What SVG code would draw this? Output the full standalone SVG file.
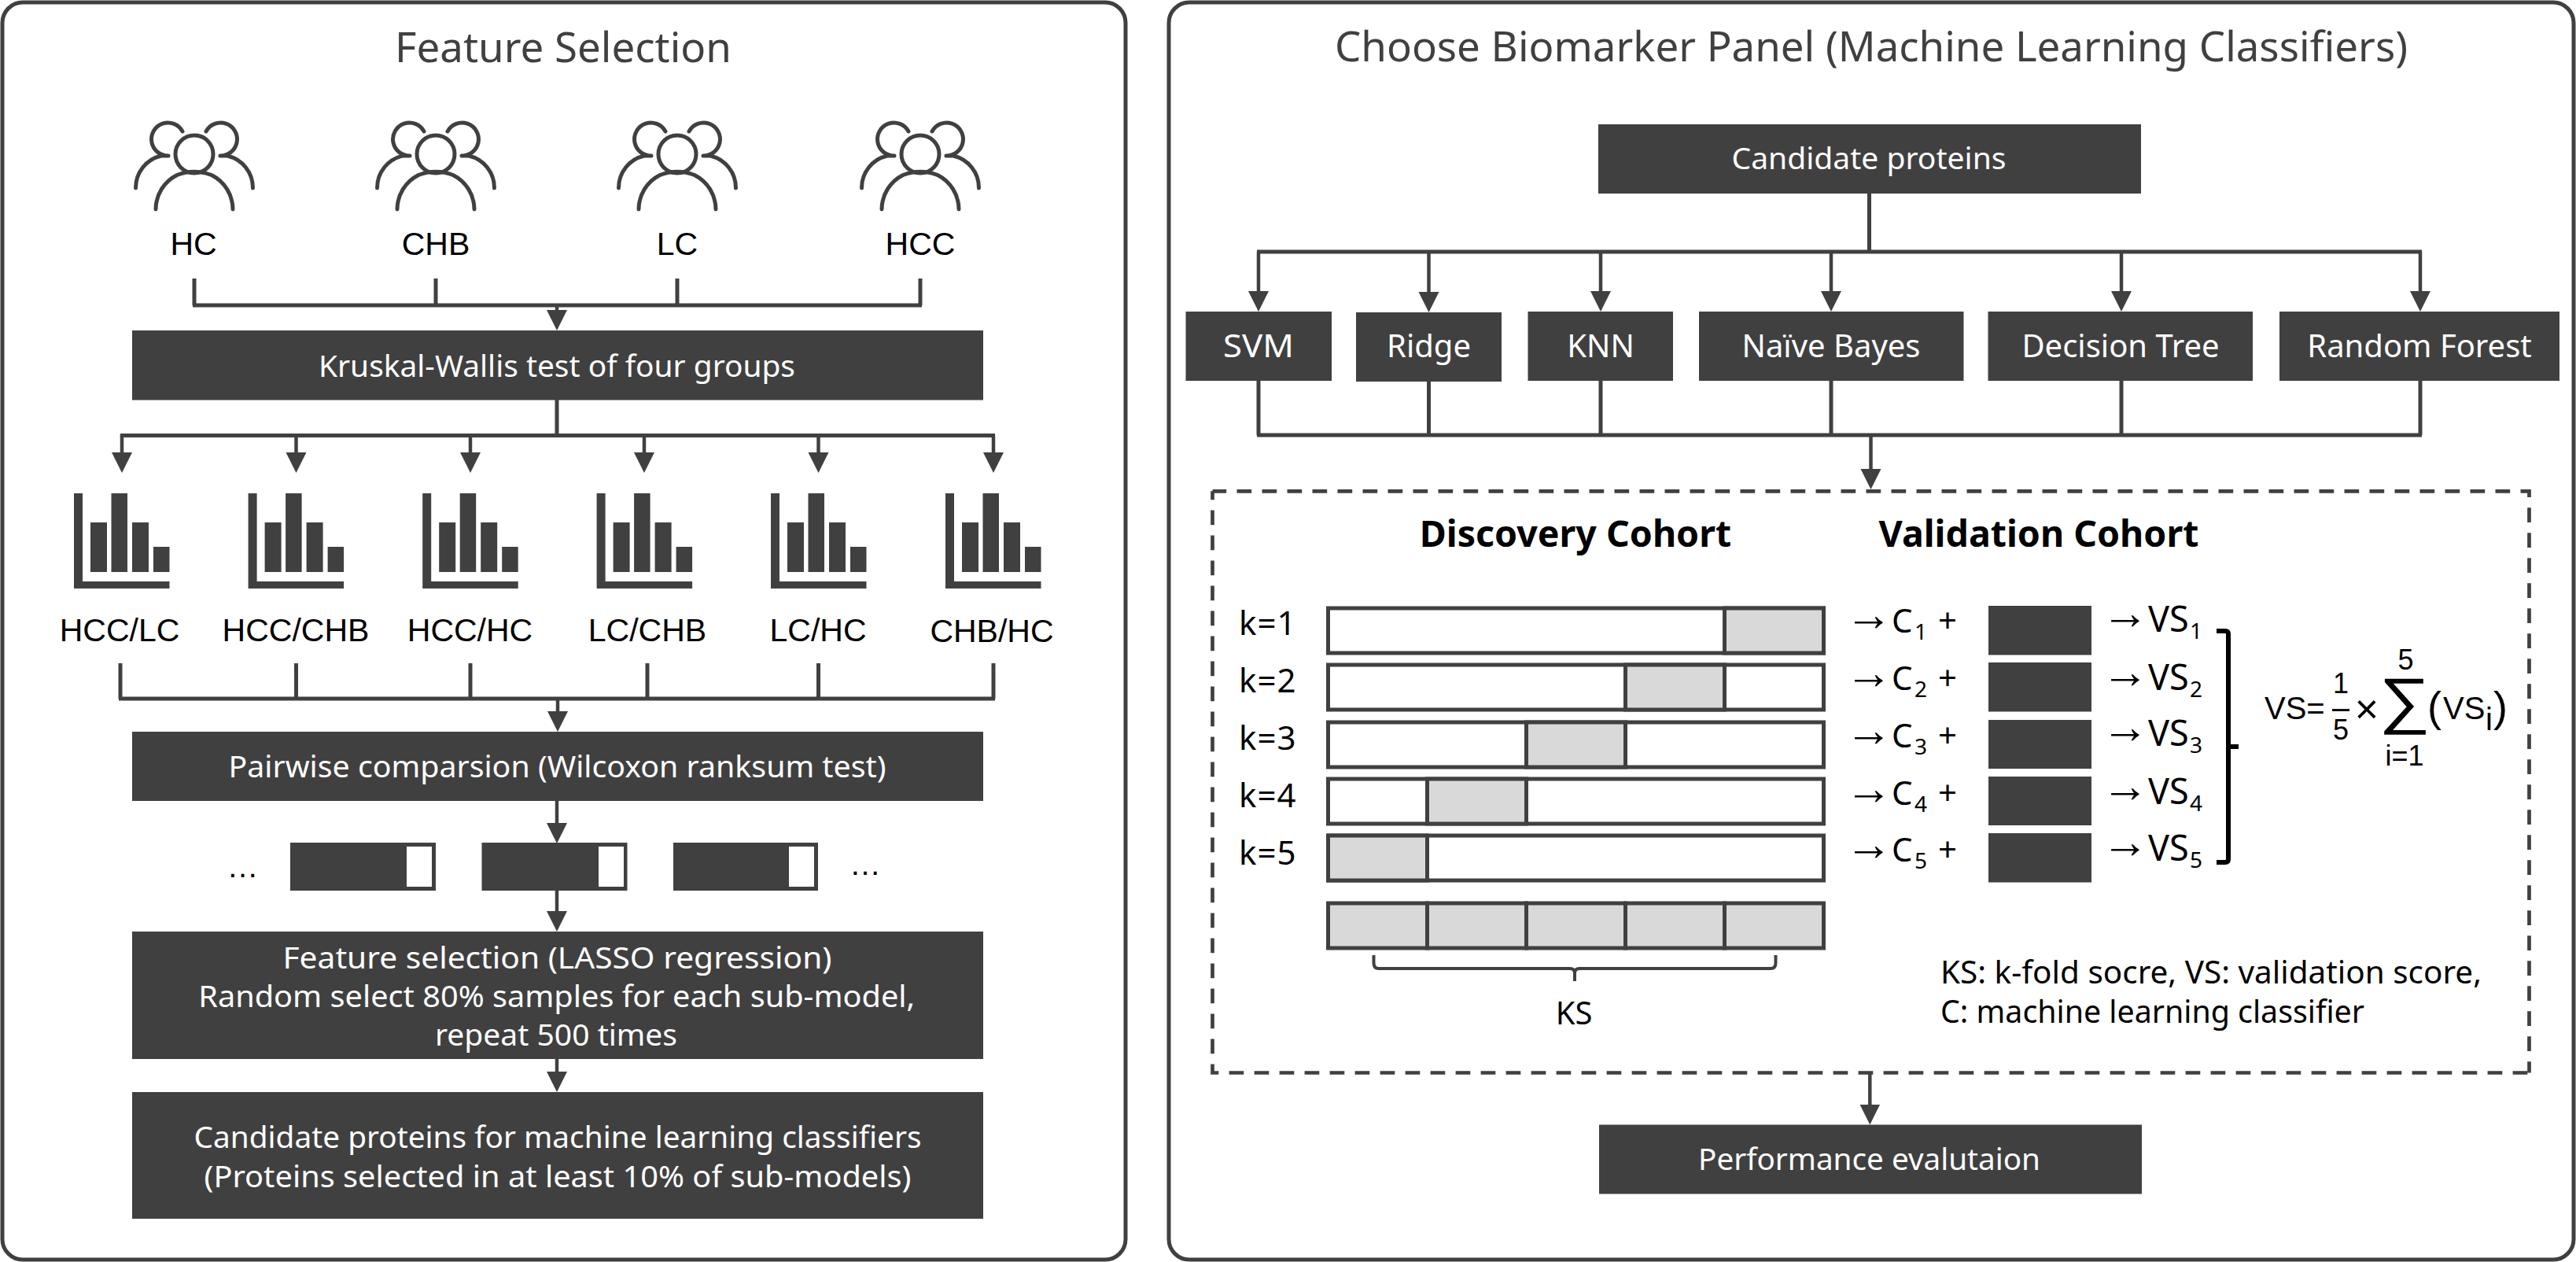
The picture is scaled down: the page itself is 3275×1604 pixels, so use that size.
<svg xmlns="http://www.w3.org/2000/svg" width="3275" height="1604" viewBox="0 0 3275 1604">
<style>
text{font-family:"Noto Sans","Liberation Sans",sans-serif;fill:#000}
.t{font-size:53px;fill:#404040;text-anchor:middle}
.w{font-size:39px;fill:#fff;text-anchor:middle}
.n{font-size:40px;fill:#fff;text-anchor:middle}
.l{font-size:41px;text-anchor:middle;font-family:"Liberation Sans",sans-serif}
.ks{font-size:40px;text-anchor:middle}
.b{font-size:46.500px;font-weight:700;text-anchor:middle}
.s{font-size:42px;letter-spacing:1px}
.v{font-size:45px}
.c4{font-size:42px}
.sub{font-size:28px}
.ar{font-size:60px;font-family:"Liberation Sans",sans-serif}
.m{font-family:"Liberation Sans",sans-serif;font-size:40px}
.m36{font-family:"Liberation Sans",sans-serif;font-size:36px;text-anchor:middle}
.leg{font-size:40px}
.box{fill:#404040}
.panel{fill:#fff;stroke:#404040;stroke-width:5}
.c{fill:none;stroke:#404040;stroke-width:5}
.a{fill:none;stroke:#404040;stroke-width:4.500;marker-end:url(#ah)}
.ic{fill:none;stroke:#404040;stroke-width:5;stroke-linecap:round}
.bar{fill:#fff;stroke:#404040;stroke-width:5}
.g{fill:#d9d9d9;stroke:#404040;stroke-width:5}
.dash{fill:none;stroke:#404040;stroke-width:4.700;stroke-dasharray:18.700 13.300}
</style>
<defs>
<marker id="ah" markerUnits="userSpaceOnUse" markerWidth="28" markerHeight="28" refX="16" refY="13" orient="auto">
<path d="M0 0L26 13L0 26Z" fill="#404040"/>
</marker>
<g id="people">
<circle cx="0" cy="196" r="24" class="ic"/>
<path class="ic" d="M-49 266A49 49 0 0 1 -22 222.500M49 266A49 49 0 0 0 22 222.500M-22 222.500Q0 214 22 222.500"/>
<path class="ic" d="M-15 167A21 21 0 1 0 -33 198M-74.500 239A42 42 0 0 1 -42 198L-33 198"/>
<path class="ic" d="M15 167A21 21 0 1 1 33 198M74.500 239A42 42 0 0 0 42 198L33 198"/>
</g>
<g id="chart" fill="#404040">
<path d="M0 0H11V112H121.500V121H0Z"/>
<rect x="21" y="37" width="21" height="63"/>
<rect x="47.500" y="0" width="20.500" height="100"/>
<rect x="74" y="37" width="21" height="63"/>
<rect x="101" y="68" width="20.500" height="32"/>
</g>
</defs>

<g id="panel-left"><rect class="panel" x="3" y="3" width="1428" height="1598" rx="26"/>
<text class="t" x="716" y="79" textLength="428" lengthAdjust="spacingAndGlyphs">Feature Selection</text></g>
<g id="panel-right"><rect class="panel" x="1486" y="3" width="1786" height="1598" rx="26"/>
<text class="t" x="2379" y="78" textLength="1364" lengthAdjust="spacingAndGlyphs">Choose Biomarker Panel (Machine Learning Classifiers)</text></g>

<g id="connectors">
<path class="c" d="M247 354V388M554 354V388M861 354V388M1170 354V388M245 388H1172"/>
<path class="a" d="M708 388V410"/>
<path class="c" d="M708 508V553.500M152.800 553.500H1265"/>
<path class="a" d="M155 553.500V591"/><path class="a" d="M376.500 553.500V591"/><path class="a" d="M598 553.500V591"/><path class="a" d="M819 553.500V591"/><path class="a" d="M1040.500 553.500V591"/><path class="a" d="M1263 553.500V591"/>
<path class="c" d="M153 843V888M376.500 843V888M598 843V888M823 843V888M1040.500 843V888M1263 843V888M151 888H1265"/>
<path class="a" d="M709 888V920"/>
<path class="a" d="M708 1018V1062"/>
<path class="a" d="M708 1132V1174"/>
<path class="a" d="M708 1346V1378"/>
<path class="c" d="M2376.500 246V320M1598 320H3079"/>
<path class="a" d="M1600 320V386"/><path class="a" d="M1816.500 320V387"/><path class="a" d="M2035 320V386"/><path class="a" d="M2328 320V386"/><path class="a" d="M2697 320V386"/><path class="a" d="M3077 320V386"/>
<path class="c" d="M1600 484V553M1816.500 484V553M2035 484V553M2328 484V553M2697 484V553M3077 484V553M1598 553H3079"/>
<path class="a" d="M2378.500 553V612"/>
<path class="a" d="M2377.300 1364V1419.500"/>
</g>

<g id="hc"><use href="#people" x="247"/><text class="l" x="246" y="324">HC</text></g>
<g id="chb"><use href="#people" x="554"/><text class="l" x="554" y="324">CHB</text></g>
<g id="lc"><use href="#people" x="861"/><text class="l" x="861" y="324">LC</text></g>
<g id="hcc"><use href="#people" x="1170"/><text class="l" x="1170" y="324">HCC</text></g>

<g id="kruskal"><rect class="box" x="168" y="420" width="1082" height="88.500"/><text class="w" x="708" y="479" textLength="606" lengthAdjust="spacingAndGlyphs">Kruskal-Wallis test of four groups</text></g>

<g id="c1"><use href="#chart" x="94" y="627"/><text class="l" x="152" y="815">HCC/LC</text></g>
<g id="c2"><use href="#chart" x="315.600" y="627"/><text class="l" x="376" y="815">HCC/CHB</text></g>
<g id="c3"><use href="#chart" x="537.200" y="627"/><text class="l" x="597.500" y="815">HCC/HC</text></g>
<g id="c4"><use href="#chart" x="758.600" y="627"/><text class="l" x="823" y="815">LC/CHB</text></g>
<g id="c5"><use href="#chart" x="980" y="627"/><text class="l" x="1040" y="815">LC/HC</text></g>
<g id="c6"><use href="#chart" x="1202" y="627"/><text class="l" x="1261" y="816">CHB/HC</text></g>

<g id="pairwise"><rect class="box" x="168" y="930" width="1082" height="88"/><text class="w" x="708.500" y="988" textLength="836" lengthAdjust="spacingAndGlyphs">Pairwise comparsion (Wilcoxon ranksum test)</text></g>

<g id="samples">
<text class="l" x="308.500" y="1115" style="font-size:40px">…</text>
<rect class="box" x="369" y="1071" width="185" height="61"/><rect x="517" y="1076" width="32" height="51" fill="#fff"/>
<rect class="box" x="612.500" y="1071" width="185" height="61"/><rect x="761" y="1076" width="32" height="51" fill="#fff"/>
<rect class="box" x="856" y="1071" width="184" height="61"/><rect x="1003" y="1076" width="32" height="51" fill="#fff"/>
<text class="l" x="1100" y="1112" style="font-size:40px">…</text>
</g>

<g id="lasso"><rect class="box" x="168" y="1184" width="1082" height="162"/>
<text class="w" x="708.500" y="1231" textLength="698" lengthAdjust="spacingAndGlyphs">Feature selection (LASSO regression)</text>
<text class="w" x="707.700" y="1280" textLength="911" lengthAdjust="spacingAndGlyphs">Random select 80% samples for each sub-model,</text>
<text class="w" x="707" y="1329" textLength="308" lengthAdjust="spacingAndGlyphs">repeat 500 times</text></g>

<g id="candidates"><rect class="box" x="168" y="1388" width="1082" height="161"/>
<text class="w" x="709" y="1459" textLength="925" lengthAdjust="spacingAndGlyphs">Candidate proteins for machine learning classifiers</text>
<text class="w" x="709" y="1509" textLength="899" lengthAdjust="spacingAndGlyphs">(Proteins selected in at least 10% of sub-models)</text></g>

<g id="candidate-proteins"><rect class="box" x="2032" y="158" width="690" height="88"/><text class="w" x="2376" y="215" textLength="349" lengthAdjust="spacingAndGlyphs">Candidate proteins</text></g>
<g id="svm"><rect class="box" x="1507.500" y="396" width="185.500" height="88"/><text class="n" x="1600" y="454" textLength="90" lengthAdjust="spacingAndGlyphs">SVM</text></g>
<g id="ridge"><rect class="box" x="1724" y="397" width="185" height="88"/><text class="n" x="1816.500" y="454">Ridge</text></g>
<g id="knn"><rect class="box" x="1942.500" y="396" width="184.500" height="88"/><text class="n" x="2035" y="454">KNN</text></g>
<g id="nb"><rect class="box" x="2160" y="396" width="336.500" height="88"/><text class="n" x="2328" y="454">Naïve Bayes</text></g>
<g id="dt"><rect class="box" x="2527.500" y="396" width="336.500" height="88"/><text class="n" x="2696" y="454">Decision Tree</text></g>
<g id="rf"><rect class="box" x="2898" y="396" width="356" height="88"/><text class="n" x="3076" y="454">Random Forest</text></g>

<g id="cohort">
<path class="dash" stroke-dashoffset="1" d="M1541.500 624.300H3215.500V1363.500"/>
<path class="dash" stroke-dashoffset="7.700" d="M1541.500 624.300V1363.500H3215.500"/>
<text class="b" x="2003" y="695">Discovery Cohort</text>
<text class="b" x="2592" y="695">Validation Cohort</text>

<text class="s" x="1575" y="807">k=1</text><text class="s" x="1575" y="880">k=2</text><text class="s" x="1575" y="953">k=3</text><text class="s" x="1575" y="1026">k=4</text><text class="s" x="1575" y="1099">k=5</text>

<rect class="bar" x="1688.500" y="773" width="630" height="57"/><rect class="g" x="2192.500" y="773" width="126" height="57"/>
<rect class="bar" x="1688.500" y="845" width="630" height="57"/><rect class="g" x="2066.500" y="845" width="126" height="57"/>
<rect class="bar" x="1688.500" y="918" width="630" height="57"/><rect class="g" x="1940.500" y="918" width="126" height="57"/>
<rect class="bar" x="1688.500" y="990" width="630" height="57"/><rect class="g" x="1814.500" y="990" width="126" height="57"/>
<rect class="bar" x="1688.500" y="1062" width="630" height="57"/><rect class="g" x="1688.500" y="1062" width="126" height="57"/>
<rect class="g" x="1688.500" y="1148" width="126" height="57"/><rect class="g" x="1814.500" y="1148" width="126" height="57"/><rect class="g" x="1940.500" y="1148" width="126" height="57"/><rect class="g" x="2066.500" y="1148" width="126" height="57"/><rect class="g" x="2192.500" y="1148" width="126" height="57"/>
<path d="M1746.500 1214V1224Q1746.500 1231 1753 1231H1996Q2002 1231 2002 1237V1247M2002 1237Q2002 1231 2008 1231H2251Q2257.500 1231 2257.500 1224V1214" fill="none" stroke="#404040" stroke-width="4"/>
<text class="ks" x="2001" y="1302">KS</text>

<text class="ar" x="2346" y="801">→</text><text class="c4" x="2405" y="804">C</text><text class="sub" x="2434" y="813">1</text><text class="c4" x="2476" y="804" text-anchor="middle">+</text>
<text class="ar" x="2346" y="875">→</text><text class="c4" x="2405" y="877">C</text><text class="sub" x="2434" y="886">2</text><text class="c4" x="2476" y="877" text-anchor="middle">+</text>
<text class="ar" x="2346" y="948">→</text><text class="c4" x="2405" y="950">C</text><text class="sub" x="2434" y="959">3</text><text class="c4" x="2476" y="950" text-anchor="middle">+</text>
<text class="ar" x="2346" y="1022">→</text><text class="c4" x="2405" y="1023">C</text><text class="sub" x="2434" y="1032">4</text><text class="c4" x="2476" y="1023" text-anchor="middle">+</text>
<text class="ar" x="2346" y="1093">→</text><text class="c4" x="2405" y="1095">C</text><text class="sub" x="2434" y="1104">5</text><text class="c4" x="2476" y="1095" text-anchor="middle">+</text>

<text class="ar" x="2672" y="799">→</text><text class="v" x="2731" y="803">VS</text><text class="sub" x="2784" y="812">1</text>
<text class="ar" x="2672" y="874">→</text><text class="v" x="2731" y="877">VS</text><text class="sub" x="2784" y="886">2</text>
<text class="ar" x="2672" y="944">→</text><text class="v" x="2731" y="948">VS</text><text class="sub" x="2784" y="957">3</text>
<text class="ar" x="2672" y="1018.500">→</text><text class="v" x="2731" y="1022">VS</text><text class="sub" x="2784" y="1031">4</text>
<text class="ar" x="2672" y="1090">→</text><text class="v" x="2731" y="1093.500">VS</text><text class="sub" x="2784" y="1102.500">5</text>

<rect class="box" x="2528" y="770" width="131" height="62.500"/><rect class="box" x="2528" y="842" width="131" height="62.500"/><rect class="box" x="2528" y="915" width="131" height="62"/><rect class="box" x="2528" y="987" width="131" height="62"/><rect class="box" x="2528" y="1059" width="131" height="62.500"/>
<path d="M2818 802H2829Q2833 802 2833 806V1092Q2833 1096 2829 1096H2818M2833 949H2846" fill="none" stroke="#000" stroke-width="6"/>
<text class="m" x="2879" y="914">VS=</text>
<text class="m36" x="2976" y="881">1</text>
<path d="M2965 902.500H2987" stroke="#111" stroke-width="3"/>
<text class="m36" x="2976" y="940">5</text>
<text class="m" x="3009" y="919" text-anchor="middle" style="font-size:52px">×</text>
<text class="m36" x="3058.500" y="851">5</text>
<text transform="translate(3057 917) scale(1 .86)" font-size="92" text-anchor="middle" style="font-family:'Liberation Sans',sans-serif">∑</text>
<text class="m36" x="3057" y="973">i=1</text>
<text x="3086" y="917" font-size="54" style="font-family:'Liberation Sans',sans-serif">(</text>
<text class="m" x="3106" y="914">VS</text>
<text class="m" x="3160" y="928">i</text>
<text x="3170" y="917" font-size="54" style="font-family:'Liberation Sans',sans-serif">)</text>
<text class="leg" x="2467" y="1250" textLength="688" lengthAdjust="spacingAndGlyphs">KS: k-fold socre, VS: validation score,</text>
<text class="leg" x="2467" y="1300" textLength="539" lengthAdjust="spacingAndGlyphs">C: machine learning classifier</text>
</g>

<g id="performance"><rect class="box" x="2033" y="1429.500" width="690" height="88"/><text class="w" x="2376.500" y="1487" textLength="435" lengthAdjust="spacingAndGlyphs">Performance evalutaion</text></g>
</svg>
